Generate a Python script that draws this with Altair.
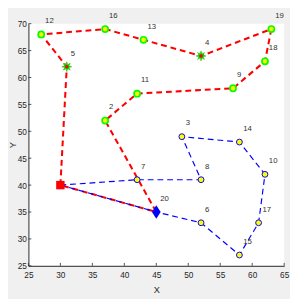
import math
import altair as alt
import pandas as pd

# ---- data ----
node_id = list(range(1, 21))
node_x = [30, 37, 49, 52, 31, 52, 42, 52, 57, 62, 42, 27, 43, 58, 58, 37, 61, 62, 63, 45]
node_y = [40, 52, 49, 64, 62, 33, 41, 41, 58, 42, 57, 68, 67, 48, 27, 69, 33, 63, 69, 35]
node_kind = ["depot", "red", "blue", "station", "station", "blue", "blue", "blue", "red", "blue",
             "red", "red", "red", "blue", "blue", "red", "blue", "red", "red", "hub"]
route_red = [1, 5, 12, 16, 13, 4, 19, 18, 9, 11, 2, 20, 1]
route_blue = [1, 7, 8, 3, 14, 10, 17, 15, 6, 20, 1]
x_ticks = [25, 30, 35, 40, 45, 50, 55, 60, 65]
y_ticks = [25, 30, 35, 40, 45, 50, 55, 60, 65, 70]

nodes = pd.DataFrame({"id": node_id, "x": node_x, "y": node_y, "kind": node_kind})
pos = {i: (xx, yy) for i, xx, yy in zip(node_id, node_x, node_y)}


def route_df(route):
    return pd.DataFrame({"seq": list(range(len(route))),
                         "x": [pos[n][0] for n in route],
                         "y": [pos[n][1] for n in route]})


red_df = route_df(route_red)
blue_df = route_df(route_blue)
xt_df = pd.DataFrame({"v": x_ticks})
yt_df = pd.DataFrame({"v": y_ticks})

W, H = 263, 249
FONT = "Liberation Sans"
AX = "#262626"

xs = alt.Scale(domain=[25, 65], nice=False, zero=False)
ys = alt.Scale(domain=[25, 70], nice=False, zero=False)
xaxis = alt.Axis(values=x_ticks, grid=False, ticks=False, domainColor=AX, domainWidth=1,
                 labelColor=AX, labelFontSize=8.5, labelPadding=5, labelFlush=False,
                 labelOverlap=False, title="X", titleFontSize=9.5, titleFontWeight="normal",
                 titleColor=AX, titleY=24, titleBaseline="middle")
yaxis = alt.Axis(values=y_ticks, grid=False, ticks=False, domainColor=AX, domainWidth=1,
                 labelColor=AX, labelFontSize=8.5, labelPadding=2, labelFlush=False,
                 labelOverlap=False, title="Y", titleFontSize=9.5, titleFontWeight="normal",
                 titleColor=AX, titleX=-16, titleY=H / 2, titleAlign="center",
                 titleBaseline="middle")


def X(f="x"):
    return alt.X(f + ":Q", scale=xs, axis=xaxis)


def Y(f="y"):
    return alt.Y(f + ":Q", scale=ys, axis=yaxis)


# shapes
star_pts = []
for k in range(16):
    r = 1.0 if k % 2 == 0 else 0.5
    a = math.pi * k / 8
    star_pts.append(f"{r * math.sin(a):.3f},{-r * math.cos(a):.3f}")
star_path = "M" + "L".join(star_pts) + "Z"
ast_path = "M-1,0L1,0M0,-1L0,1M-0.7,-0.7L0.7,0.7M-0.7,0.7L0.7,-0.7"
diamond_path = "M0,-1.4L0.9,0L0,1.4L-0.9,0Z"

red_line = alt.Chart(red_df).mark_line(color="#ff0000", strokeWidth=2.1, strokeDash=[6, 4]).encode(
    x=X(), y=Y(), order="seq:Q")
blue_line = alt.Chart(blue_df).mark_line(color="#0000ff", strokeWidth=1.2, strokeDash=[6, 4]).encode(
    x=X(), y=Y(), order="seq:Q")

xticks = alt.Chart(xt_df).mark_rule(color=AX, strokeWidth=0.8).encode(
    x=X("v"), y=alt.value(H), y2=alt.value(H - 3))
yticks = alt.Chart(yt_df).mark_rule(color=AX, strokeWidth=0.8).encode(
    y=Y("v"), x=alt.value(0), x2=alt.value(3))

red_pts = alt.Chart(nodes).transform_filter("datum.kind == 'red'").mark_circle(
    fill="#ffff00", stroke="#00ff00", strokeWidth=1.7, size=40, opacity=1).encode(x=X(), y=Y())
blue_pts = alt.Chart(nodes).transform_filter("datum.kind == 'blue'").mark_circle(
    fill="#ffff00", stroke="#0000ff", strokeWidth=1, size=36, opacity=1).encode(x=X(), y=Y())

st = alt.Chart(nodes).transform_filter("datum.kind == 'station'")
st_ast = st.mark_point(shape=ast_path, filled=False, stroke="#ff9090", strokeWidth=1,
                       size=110, opacity=1).encode(x=X(), y=Y())
st_star = st.mark_point(shape=star_path, filled=True, fill="#00e000", stroke="#00e000",
                        strokeWidth=0.5, size=90, opacity=1).encode(x=X(), y=Y())
st_dot = st.mark_point(shape="circle", filled=True, fill="#ff0000", stroke="#ff0000",
                       strokeWidth=0, size=14, opacity=1).encode(x=X(), y=Y())

hub = alt.Chart(nodes).transform_filter("datum.kind == 'hub'").mark_point(
    shape=diamond_path, filled=True, color="#0000ff", size=100, opacity=1).encode(x=X(), y=Y())
depot = alt.Chart(nodes).transform_filter("datum.kind == 'depot'").mark_square(
    color="#ff0000", size=75, opacity=1).encode(x=X(), y=Y())

labels = alt.Chart(nodes).transform_filter("datum.kind != 'depot'").mark_text(
    dx=4, dy=-13.5, align="left", baseline="middle", fontSize=8, color="#333333",
    font=FONT).encode(x=X(), y=Y(), text="id:N")

chart = alt.layer(
    red_line, blue_line, xticks, yticks, red_pts, blue_pts,
    st_ast, st_star, st_dot, hub, depot, labels
).properties(
    width=W, height=H,
    autosize=alt.AutoSizeParams(type="none"),
    padding={"left": 21, "top": 12, "right": 6, "bottom": 30},
).configure(
    background="#f0f0f0", font=FONT
).configure_view(
    fill="#ffffff", strokeWidth=0
)

chart.save("out.html", embed_options={"renderer": "svg", "actions": False})
